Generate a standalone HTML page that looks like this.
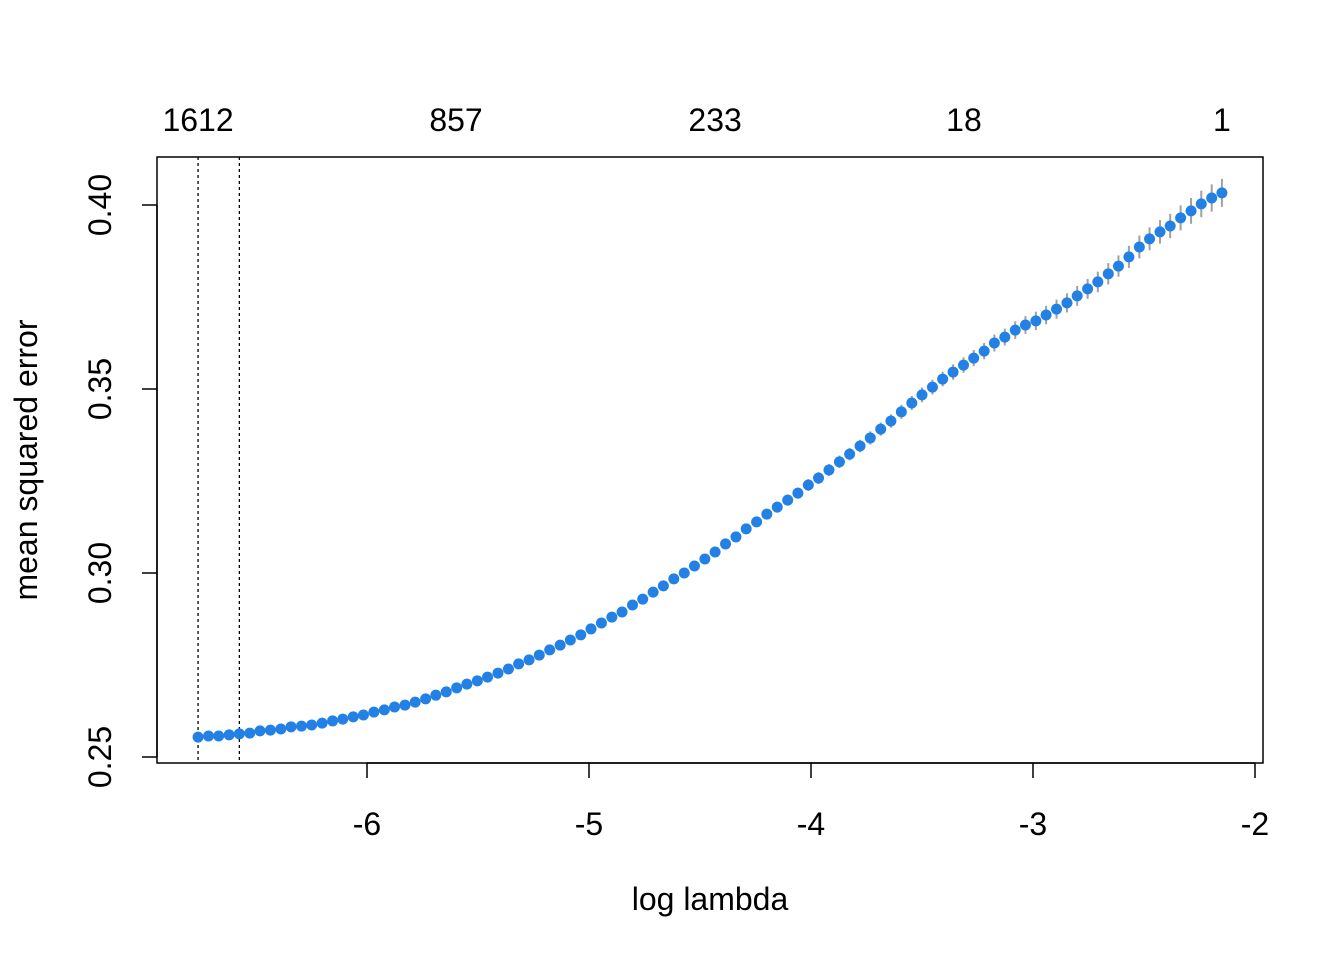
<!DOCTYPE html>
<html><head><meta charset="utf-8"><style>
html,body{margin:0;padding:0;background:#fff;}
svg text{font-family:"Liberation Sans",Arial,sans-serif;fill:#000;}
</style></head><body>
<svg id="chart" width="1344" height="960" xmlns="http://www.w3.org/2000/svg">
<rect x="157" y="157" width="1106" height="606" fill="none" stroke="#000" stroke-width="1.5"/>
<g id="xaxis"></g>
<g id="yaxis"></g>
<g id="topaxis"></g>
<g id="vlines"></g>
<g id="bars"></g>
<g id="pts"></g>
<text x="710" y="910" font-size="32" text-anchor="middle">log lambda</text>
<text transform="translate(37,460) rotate(-90)" font-size="32" text-anchor="middle">mean squared error</text>
</svg>
<script>
const logLambda=[-6.761,-6.714,-6.668,-6.621,-6.575,-6.528,-6.482,-6.435,-6.388,-6.342,-6.295,-6.249,-6.202,-6.155,-6.109,-6.062,-6.016,-5.969,-5.922,-5.876,-5.829,-5.783,-5.736,-5.690,-5.643,-5.596,-5.550,-5.503,-5.457,-5.410,-5.363,-5.317,-5.270,-5.224,-5.177,-5.130,-5.084,-5.037,-4.991,-4.944,-4.897,-4.851,-4.804,-4.758,-4.711,-4.665,-4.618,-4.571,-4.525,-4.478,-4.432,-4.385,-4.338,-4.292,-4.245,-4.199,-4.152,-4.105,-4.059,-4.012,-3.966,-3.919,-3.872,-3.826,-3.779,-3.733,-3.686,-3.640,-3.593,-3.546,-3.500,-3.453,-3.407,-3.360,-3.313,-3.267,-3.220,-3.174,-3.127,-3.080,-3.034,-2.987,-2.941,-2.894,-2.847,-2.801,-2.754,-2.708,-2.661,-2.615,-2.568,-2.521,-2.475,-2.428,-2.382,-2.335,-2.288,-2.242,-2.195,-2.149];
const mse=[.2554,.2557,.2557,.2560,.2563,.2565,.2571,.2573,.2576,.2582,.2584,.2587,.2592,.2598,.2603,.2609,.2614,.2622,.2628,.2636,.2641,.2649,.2658,.2668,.2677,.2688,.2698,.2707,.2717,.2728,.2739,.2753,.2764,.2777,.2791,.2804,.2818,.2832,.2848,.2864,.2880,.2894,.2913,.2929,.2948,.2965,.2984,.3000,.3019,.3038,.3057,.3079,.3098,.3120,.3139,.3160,.3179,.3198,.3217,.3239,.3258,.3280,.3302,.3323,.3345,.3367,.3391,.3413,.3438,.3462,.3484,.3505,.3527,.3546,.3565,.3584,.3603,.3625,.3641,.3660,.3674,.3685,.3701,.3717,.3734,.3753,.3772,.3791,.3813,.3834,.3859,.3886,.3908,.3927,.3943,.3965,.3984,.4003,.4019,.4033];
const se=[.0004,.0004,.0004,.0004,.0004,.0004,.0004,.0004,.0004,.0004,.0005,.0005,.0005,.0005,.0005,.0005,.0005,.0005,.0006,.0006,.0006,.0006,.0006,.0006,.0007,.0007,.0007,.0007,.0007,.0008,.0008,.0008,.0008,.0008,.0009,.0009,.0009,.0009,.0010,.0010,.0010,.0010,.0011,.0011,.0011,.0011,.0012,.0012,.0012,.0013,.0013,.0013,.0013,.0014,.0014,.0014,.0015,.0015,.0015,.0016,.0016,.0016,.0017,.0017,.0017,.0018,.0018,.0018,.0019,.0019,.0020,.0020,.0020,.0021,.0021,.0022,.0022,.0023,.0023,.0024,.0024,.0025,.0025,.0026,.0026,.0027,.0027,.0028,.0029,.0029,.0030,.0031,.0031,.0032,.0033,.0034,.0035,.0036,.0037,.0038];
const xTicks=[-6,-5,-4,-3,-2];
const yTicks=[0.25,0.30,0.35,0.40];
const yTickLabels=["0.25","0.30","0.35","0.40"];
const topPos=[-6.761,-5.599,-4.432,-3.311,-2.149];
const topLabels=["1612","857","233","18","1"];
const vLines=[-6.761,-6.575];

const NS="http://www.w3.org/2000/svg";
const X=v=>367+(v+6)*222;
const Y=v=>757-(v-0.25)*3680;
function mk(parent,tag,attrs,text){const e=document.createElementNS(NS,tag);for(const k in attrs)e.setAttribute(k,attrs[k]);if(text!==undefined)e.textContent=text;document.getElementById(parent).appendChild(e);return e;}

xTicks.forEach(t=>{
  const l=mk('xaxis','line',{x1:X(t),x2:X(t),y1:763,y2:778,stroke:'#000','stroke-width':1.5});
  
  
  const tx=mk('xaxis','text',{x:X(t),y:835,'font-size':32,'text-anchor':'middle'},String(t));
  
  
});
const ax=mk('xaxis','line',{x1:X(xTicks[0]),x2:X(xTicks[xTicks.length-1]),y1:763,y2:763,stroke:'#000','stroke-width':1.5});



yTicks.forEach((t,i)=>{
  const l=mk('yaxis','line',{x1:142,x2:157,y1:Y(t),y2:Y(t),stroke:'#000','stroke-width':1.5});
  
  
  const tx=mk('yaxis','text',{transform:`translate(111,${Y(t)}) rotate(-90)`,'font-size':32,'text-anchor':'middle'},yTickLabels[i]);
  
  
});
const ay=mk('yaxis','line',{x1:157,x2:157,y1:Y(yTicks[0]),y2:Y(yTicks[yTicks.length-1]),stroke:'#000','stroke-width':1.5});



topPos.forEach((p,i)=>{
  const tx=mk('topaxis','text',{x:X(p),y:131,'font-size':32,'text-anchor':'middle'},topLabels[i]);
  
  
});

vLines.forEach(v=>{
  const l=mk('vlines','line',{x1:X(v),x2:X(v),y1:157,y2:763,stroke:'#000','stroke-width':1.3,'stroke-dasharray':'3,3'});
  
  
});

logLambda.forEach((v,i)=>{
  const b=mk('bars','line',{x1:X(v),x2:X(v),y1:Y(mse[i]+se[i]),y2:Y(mse[i]-se[i]),stroke:'#a0a0a0','stroke-width':2});
  
  
  const c=mk('pts','circle',{cx:X(v),cy:Y(mse[i]),r:5.5,fill:'#2381e6'});
  
  
});
</script>
</body></html>
